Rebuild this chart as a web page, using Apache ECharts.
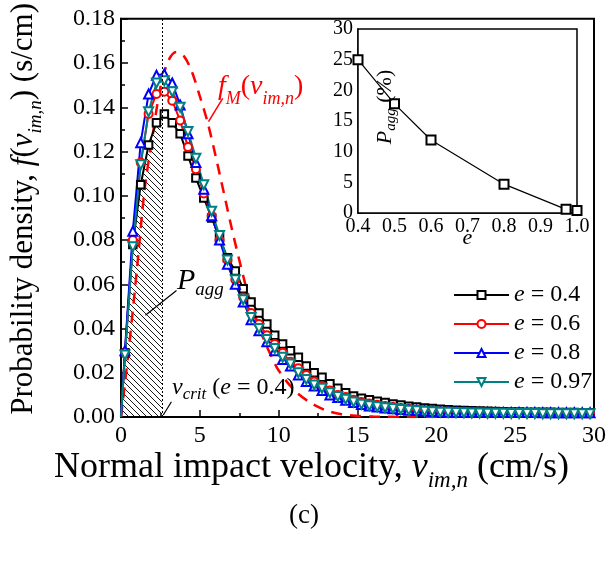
<!DOCTYPE html>
<html>
<head>
<meta charset="utf-8">
<title>Impact velocity PDF</title>
<script src="https://cdn.jsdelivr.net/npm/echarts@6.0.0/dist/echarts.min.js"></script>
<style>
  html, body { margin: 0; padding: 0; background: #fff; }
  #chart { width: 609px; height: 569px; }
</style>
</head>
<body>
<div id="chart"></div>
<script>
// bin centres of the normal impact velocity (cm/s), first point is the origin
const vel = [0, 0.25, 0.75, 1.25, 1.75, 2.25, 2.75, 3.25, 3.75, 4.25, 4.75,
  5.25, 5.75, 6.25, 6.75, 7.25, 7.75, 8.25, 8.75, 9.25, 9.75,
  10.25, 10.75, 11.25, 11.75, 12.25, 12.75, 13.25, 13.75, 14.25, 14.75,
  15.25, 15.75, 16.25, 16.75, 17.25, 17.75, 18.25, 18.75, 19.25, 19.75,
  20.25, 20.75, 21.25, 21.75, 22.25, 22.75, 23.25, 23.75, 24.25, 24.75,
  25.25, 25.75, 26.25, 26.75, 27.25, 27.75, 28.25, 28.75, 29.25, 29.75];

// probability density f(v_im,n) (s/cm) for each restitution coefficient
const pdf04 = [0, 0.029, 0.078, 0.105, 0.123, 0.133, 0.137, 0.133, 0.128, 0.118, 0.108,
  0.099, 0.090, 0.081, 0.072, 0.066, 0.058, 0.052, 0.047, 0.042, 0.037,
  0.033, 0.030, 0.027, 0.023, 0.020, 0.018, 0.015, 0.013, 0.011, 0.0095,
  0.0085, 0.0078, 0.0071, 0.0065, 0.0059, 0.0054, 0.0049, 0.0045, 0.0041, 0.0038,
  0.0035, 0.0033, 0.0031, 0.0029, 0.0028, 0.0027, 0.0026, 0.0025, 0.0024, 0.0023,
  0.0023, 0.0022, 0.0022, 0.0021, 0.0021, 0.0020, 0.0020, 0.0020, 0.0019, 0.0019];
const pdf06 = [0, 0.029, 0.080, 0.115, 0.137, 0.146, 0.147, 0.143, 0.134, 0.122, 0.112,
  0.101, 0.091, 0.080, 0.071, 0.062, 0.054, 0.047, 0.042, 0.037, 0.033,
  0.029, 0.025, 0.022, 0.019, 0.016, 0.014, 0.012, 0.010, 0.009, 0.0078,
  0.0068, 0.0061, 0.0055, 0.0050, 0.0045, 0.0041, 0.0037, 0.0034, 0.0031, 0.0028,
  0.0026, 0.0025, 0.0023, 0.0022, 0.0021, 0.0020, 0.0020, 0.0019, 0.0019, 0.0018,
  0.0018, 0.0018, 0.0017, 0.0017, 0.0017, 0.0016, 0.0016, 0.0016, 0.0016, 0.0015];
const pdf08 = [0, 0.030, 0.084, 0.124, 0.146, 0.1545, 0.155, 0.151, 0.141, 0.128, 0.115,
  0.103, 0.091, 0.080, 0.069, 0.060, 0.052, 0.044, 0.039, 0.034, 0.030,
  0.026, 0.023, 0.019, 0.016, 0.014, 0.012, 0.010, 0.0088, 0.0076, 0.0065,
  0.0057, 0.0050, 0.0045, 0.0041, 0.0037, 0.0034, 0.0031, 0.0029, 0.0027, 0.0025,
  0.0024, 0.0023, 0.0022, 0.0022, 0.0021, 0.0021, 0.0021, 0.0020, 0.0020, 0.0020,
  0.0020, 0.0020, 0.0020, 0.0019, 0.0019, 0.0019, 0.0019, 0.0019, 0.0019, 0.0019];
const pdf097 = [0, 0.028, 0.077, 0.114, 0.138, 0.151, 0.152, 0.147, 0.140, 0.129, 0.117,
  0.105, 0.093, 0.082, 0.071, 0.062, 0.053, 0.045, 0.040, 0.035, 0.031,
  0.027, 0.024, 0.020, 0.017, 0.0145, 0.013, 0.011, 0.0093, 0.008, 0.0068,
  0.0058, 0.0051, 0.0046, 0.0042, 0.0038, 0.0034, 0.0031, 0.0028, 0.0026, 0.0024,
  0.0022, 0.0021, 0.0020, 0.0019, 0.0018, 0.0018, 0.0017, 0.0017, 0.0017, 0.0016,
  0.0016, 0.0016, 0.0016, 0.0015, 0.0015, 0.0015, 0.0015, 0.0015, 0.0015, 0.0015];

// Maxwellian f_M(v_im,n), red dashed
const maxVel = [0, 0.5, 1, 1.5, 2, 2.5, 3, 3.5, 4, 4.5, 5, 5.5, 6, 6.5, 7, 7.5, 8, 8.5, 9, 9.5, 10,
  11, 12, 13, 14, 15, 16, 18, 20, 25, 30];
const maxPdf = [0, 0.031, 0.066, 0.103, 0.127, 0.149, 0.161, 0.165, 0.163, 0.156, 0.145,
  0.133, 0.118, 0.102, 0.086, 0.071, 0.057, 0.046, 0.036, 0.028, 0.021,
  0.012, 0.0065, 0.003, 0.0012, 0.0005, 0.0002, 0, 0, 0, 0];

// critical velocity for e = 0.4 and the density read there
const vCrit = 2.6;
const fCrit = 0.136;

// inset: aggregation probability vs restitution coefficient
const eVals = [0.4, 0.5, 0.6, 0.8, 0.97, 1.0];
const pAgg = [25.0, 17.8, 11.9, 4.7, 0.6, 0.4];

const names = ['e = 0.4', 'e = 0.6', 'e = 0.8', 'e = 0.97'];
const FONT = 'Liberation Serif';

// rich text sets: n normal, i italic, s italic subscript pushed down by shift px
function rich(size, sub, shift, color) {
  return {
    n: { fontFamily: FONT, fontSize: size, color: color },
    i: { fontFamily: FONT, fontSize: size, fontStyle: 'italic', color: color },
    s: { fontFamily: FONT, fontSize: sub, fontStyle: 'italic', color: color, padding: [shift * 2, 0, 0, 0] }
  };
}
// same for graphic texts (zrender names)
function zrich(size, sub, shift, color) {
  return {
    n: { fontFamily: FONT, fontSize: size, fill: color },
    i: { fontFamily: FONT, fontSize: size, fontStyle: 'italic', fill: color },
    s: { fontFamily: FONT, fontSize: sub, fontStyle: 'italic', fill: color, padding: [shift * 2, 0, 0, 0] }
  };
}

function hatchPattern() {
  const c = document.createElement('canvas');
  c.width = 6; c.height = 6;
  const g = c.getContext('2d');
  g.strokeStyle = '#000';
  g.lineWidth = 0.9;
  g.beginPath();
  g.moveTo(0, 0); g.lineTo(6, 6);
  g.moveTo(-1, 5); g.lineTo(1, 7);
  g.moveTo(5, -1); g.lineTo(7, 1);
  g.stroke();
  return c;
}

function pts(xs, ys) {
  return xs.map((x, k) => k === 0 ? { value: [x, ys[k]], symbol: 'none' } : [x, ys[k]]);
}

function curve(name, ys, color, symbol, size, rotate) {
  return {
    name: name, type: 'line', xAxisIndex: 0, yAxisIndex: 0,
    data: pts(vel, ys),
    symbol: symbol, symbolSize: size, symbolRotate: rotate || 0, showAllSymbol: true,
    lineStyle: { color: color, width: 2 },
    itemStyle: { color: color, borderColor: color, borderWidth: 1.3 },
    z: 3
  };
}

// hatched P_agg region: e = 0.4 curve up to v_crit
const hatchData = vel.filter(v => v < vCrit).map((v, k) => [v, pdf04[k]]).concat([[vCrit, fCrit]]);

const axisFont = { fontFamily: FONT, color: '#000' };

const seriesList = [
  {
    type: 'line', xAxisIndex: 0, yAxisIndex: 0, data: hatchData, symbol: 'none',
    lineStyle: { width: 0 },
    areaStyle: { color: { image: hatchPattern(), repeat: 'repeat' }, opacity: 1 },
    z: 1, silent: true,
    markLine: {
      silent: true, symbol: 'none', label: { show: false },
      lineStyle: { color: '#000', width: 1, type: [2, 2] },
      data: [{ xAxis: vCrit }]
    }
  },
  {
    type: 'line', xAxisIndex: 0, yAxisIndex: 0, data: maxVel.map((v, k) => [v, maxPdf[k]]),
    symbol: 'none', smooth: 0.3,
    lineStyle: { color: '#ff0000', width: 2.5, type: [11, 8] },
    z: 2,
    markLine: {
      silent: true, symbol: ['none', 'arrow'], symbolSize: [0, 10], label: { show: false },
      lineStyle: { color: '#ff0000', width: 1.5, type: 'solid' },
      data: [[{ coord: [6.45, 0.144] }, { coord: [5.55, 0.1335] }]]
    }
  },
  Object.assign(curve(names[0], pdf04, '#000000', 'emptyRect', 7.5), {
    markLine: {
      silent: true, symbol: ['none', 'arrow'], symbolSize: [0, 10], label: { show: false },
      lineStyle: { color: '#000', width: 1.2, type: 'solid' },
      data: [
        [{ coord: [3.52, 0.0572] }, { coord: [1.55, 0.046] }],
        [{ coord: [3.2, 0.0069] }, { coord: [2.68, 0.0009] }]
      ]
    }
  }),
  curve(names[1], pdf06, '#ff0000', 'emptyCircle', 8),
  curve(names[2], pdf08, '#0000ff', 'emptyTriangle', 9),
  curve(names[3], pdf097, '#008080', 'emptyTriangle', 9, 180),
  {
    type: 'line', xAxisIndex: 1, yAxisIndex: 1, data: eVals.map((e, k) => [e, pAgg[k]]),
    symbol: 'emptyRect', symbolSize: 9,
    lineStyle: { color: '#000', width: 1.2 },
    itemStyle: { color: '#000', borderColor: '#000', borderWidth: 1.5 },
    z: 5
  }
];

const chart = echarts.init(document.getElementById('chart'));
chart.setOption({
  animation: false,
  backgroundColor: '#fff',
  grid: [
    { left: 120, top: 18, width: 475, height: 399, show: true, borderColor: '#000', borderWidth: 2, backgroundColor: 'transparent' },
    { left: 358, top: 29, width: 219, height: 184, show: true, borderColor: '#000', borderWidth: 1.5, backgroundColor: '#fff', z: 4 }
  ],
  xAxis: [
    {
      type: 'value', gridIndex: 0, min: 0, max: 30, interval: 5,
      axisLine: { show: true, onZero: false, lineStyle: { color: '#000', width: 2 } },
      axisTick: { show: true, inside: true, length: 7, lineStyle: { color: '#000', width: 1.5 } },
      minorTick: { show: true, splitNumber: 2, length: 4, lineStyle: { color: '#000', width: 1.5 } },
      splitLine: { show: false },
      axisLabel: Object.assign({ fontSize: 24, margin: 7 }, axisFont),
      name: '{n|Normal impact velocity, }{i|v}{s|im,n}{n| (cm/s)}',
      nameLocation: 'middle', nameGap: 26, nameMoveOverlap: false,
      nameTextStyle: { rich: rich(36, 23, 13, '#000'), padding: [0, 92, 0, 0] }
    },
    {
      type: 'value', gridIndex: 1, min: 0.4, max: 1.0, interval: 0.1,
      axisLine: { show: true, onZero: false, lineStyle: { color: '#000', width: 1.5 } },
      axisTick: { show: true, inside: true, length: 5, lineStyle: { color: '#000', width: 1 } },
      minorTick: { show: true, splitNumber: 2, length: 3, lineStyle: { color: '#000', width: 1 } },
      splitLine: { show: false },
      axisLabel: Object.assign({ fontSize: 20, margin: 4, formatter: v => v.toFixed(1) }, axisFont),
      name: 'e', nameLocation: 'middle', nameGap: 14, nameMoveOverlap: false,
      nameTextStyle: { fontFamily: FONT, fontSize: 22, fontStyle: 'italic', color: '#000' }
    }
  ],
  yAxis: [
    {
      type: 'value', gridIndex: 0, min: 0, max: 0.18, interval: 0.02,
      axisLine: { show: true, onZero: false, lineStyle: { color: '#000', width: 2 } },
      axisTick: { show: true, inside: true, length: 7, lineStyle: { color: '#000', width: 1.5 } },
      minorTick: { show: true, splitNumber: 2, length: 4, lineStyle: { color: '#000', width: 1.5 } },
      splitLine: { show: false },
      axisLabel: Object.assign({ fontSize: 24, margin: 6, formatter: v => v.toFixed(2) }, axisFont),
      name: '{n|Probability density, }{i|f}{n|(}{i|v}{s|im,n}{n|) (s/cm)}',
      nameLocation: 'middle', nameGap: 76, nameMoveOverlap: false,
      nameTextStyle: { rich: rich(31, 19, 12, '#000'), padding: [0, 0, 0, 18] }
    },
    {
      type: 'value', gridIndex: 1, min: 0, max: 30, interval: 5,
      axisLine: { show: true, onZero: false, lineStyle: { color: '#000', width: 1.5 } },
      axisTick: { show: true, inside: true, length: 5, lineStyle: { color: '#000', width: 1 } },
      minorTick: { show: true, splitNumber: 2, length: 3, lineStyle: { color: '#000', width: 1 } },
      splitLine: { show: false },
      axisLabel: Object.assign({ fontSize: 20, margin: 5 }, axisFont)
    }
  ],
  legend: {
    data: names, orient: 'vertical', left: 448, top: 278,
    itemWidth: 55, itemHeight: 10, itemGap: 5, selectedMode: false,
    formatter: n => '{i|e}' + n.slice(1),
    textStyle: {
      fontFamily: FONT, fontSize: 24, color: '#000', lineHeight: 24,
      rich: { i: { fontFamily: FONT, fontSize: 24, fontStyle: 'italic', color: '#000' } }
    }
  },
  graphic: [
    {
      type: 'text', x: 218, y: 87, z: 10,
      style: { text: '{i|f}{s|M}{n|(}{i|v}{s|im,n}{n|)}', rich: zrich(28, 18, 12, '#ff0000'), align: 'left', verticalAlign: 'middle' }
    },
    {
      type: 'text', x: 177, y: 281, z: 10,
      style: { text: '{i|P}{s|agg}', rich: zrich(30, 19, 9, '#000'), align: 'left', verticalAlign: 'middle' }
    },
    {
      type: 'text', x: 172, y: 388, z: 10,
      style: { text: '{i|v}{s|crit}{n| (}{i|e}{n| = 0.4)}', rich: zrich(24, 17, 7, '#000'), align: 'left', verticalAlign: 'middle' }
    },
    {
      type: 'text', x: 385, y: 107, rotation: Math.PI / 2, z: 10,
      style: { text: '{i|P}{s|agg}{n| (%)}', rich: zrich(22, 15, 6, '#000'), align: 'center', verticalAlign: 'middle' }
    },
    {
      type: 'text', x: 304, y: 516, z: 10,
      style: { text: '(c)', fontFamily: FONT, fontSize: 27, fill: '#000', align: 'center', verticalAlign: 'middle' }
    }
  ],
  series: seriesList
});
</script>
</body>
</html>
